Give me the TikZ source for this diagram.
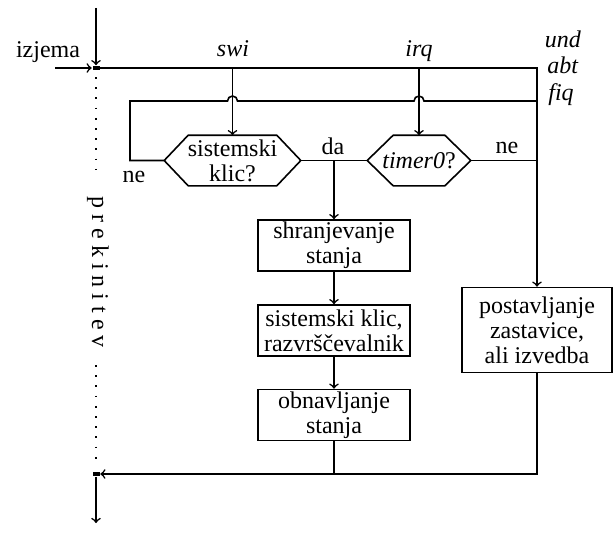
\documentclass[tikz,border=0pt]{standalone}
\usepackage{fontspec}
\setmainfont{Liberation Serif}

\begin{document}
\begin{tikzpicture}[x=0.5pt,y=-0.5pt,line width=0.8pt,>=to,
  font=\fontsize{12}{12.4}\selectfont,
  blok/.style={draw,align=center,minimum width=76pt,minimum height=25.5pt,inner sep=1pt},
  odlocitev/.style={align=center,minimum height=24.5pt,inner sep=0pt},
  tocka/.style={fill,minimum width=3.5pt,minimum height=2pt,inner sep=0pt},
  oznaka/.style={anchor=base,inner sep=0pt},
  pike/.style={line width=0.9pt,dash pattern=on 0.9pt off 4.2pt}]
\useasboundingbox (0,0) rectangle (613,535);
% vhod in izhod
\coordinate (zgoraj) at (96,8);
\coordinate (izjemazac) at (55,68);
\coordinate (spodaj) at (96,523);
\node[tocka] (vhod) at (96,68) {};
\node[tocka] (izhod) at (96,474) {};
\node[oznaka] (izjema) at (48,58) {izjema};
\node[oznaka] (swi) at (233,57) {\textit{swi}};
\node[oznaka] (irq) at (419,57) {\textit{irq}};
\node[oznaka] (und) at (563,47) {\textit{und}};
\node[oznaka] (abt) at (563,74) {\textit{abt}};
\node[oznaka] (fiq) at (561,100) {\textit{fiq}};
% odlocitve
\node[odlocitev,minimum width=67.5pt] (sysklic) at (232.5,160.5) {sistemski\\klic?};
\node[odlocitev,minimum width=51pt] (timer) at (419,160.5) {\textit{timer0}?};
\draw (sysklic.west) -- ([xshift=12pt]sysklic.north west) -- ([xshift=-12pt]sysklic.north east)
  -- (sysklic.east) -- ([xshift=-12pt]sysklic.south east) -- ([xshift=12pt]sysklic.south west) -- cycle;
\draw (timer.west) -- ([xshift=13pt]timer.north west) -- ([xshift=-13pt]timer.north east)
  -- (timer.east) -- ([xshift=-13pt]timer.south east) -- ([xshift=13pt]timer.south west) -- cycle;
\node[oznaka] (da) at (333,154) {da};
\node[oznaka] (nedesno) at (507,153) {ne};
\node[oznaka] (nelevo) at (134,182) {ne};
% bloki
\node[blok] (shrani) at (334,245.5) {shranjevanje\\stanja};
\node[blok] (klic) at (334,330.5) {sistemski klic,\\razvrščevalnik};
\node[blok] (obnovi) at (334,415) {obnavljanje\\stanja};
\node[blok,minimum width=75pt,minimum height=42.5pt] (zastavica) at (537,330) {postavljanje\\zastavice,\\ali izvedba};
\node[oznaka,anchor=center,rotate=-90] (prekinitev) at (98,272) {p r e k i n i t e v};
% povezave
\draw[->] (zgoraj) -- (vhod.north);
\draw[->] (izjemazac) -- (vhod.west);
\draw[->] (vhod.east) -| (zastavica.north);
\draw[->] (sysklic.north |- vhod) -- (sysklic.north);
\draw[->] (timer.north |- vhod) -- (timer.north);
\coordinate (zanka) at (130,101);
\draw (sysklic.west) -| (zanka) -- ([xshift=-2.5pt]zanka -| sysklic.north) arc[start angle=180,end angle=0,radius=2.5pt]
  -- ([xshift=-2.5pt]zanka -| timer.north) arc[start angle=180,end angle=0,radius=2.5pt] -- (zanka -| zastavica.north);
\draw (sysklic.east) -- (timer.west);
\draw (timer.east) -- (timer.east -| zastavica.north);
\draw[->] (shrani.north |- sysklic.east) -- (shrani.north);
\draw[->] (shrani) -- (klic);
\draw[->] (klic) -- (obnovi);
\draw (obnovi.south) -- (obnovi.south |- izhod);
\draw[->] (zastavica.south) |- (izhod.east);
\draw[->] (izhod.south) -- (spodaj);
\draw[pike] (96,77) -- (96,170);
\draw[pike] (96,365) -- (96,460);
\end{tikzpicture}
\end{document}
